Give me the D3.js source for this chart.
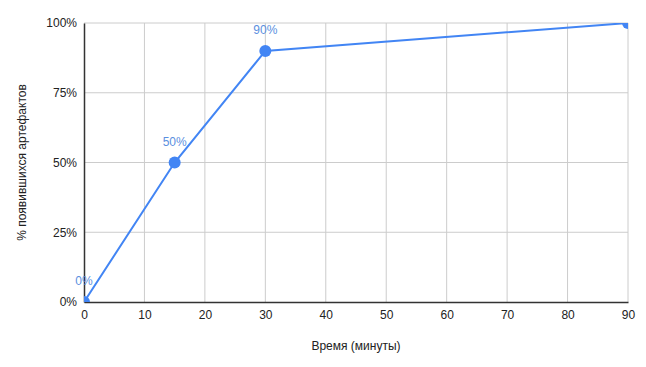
<!DOCTYPE html>
<html>
<head>
<meta charset="utf-8">
<script src="https://cdn.jsdelivr.net/npm/d3@7"></script>
<style>
  body { margin: 0; background: #fff; }
  text { font-family: "Liberation Sans", Arial, sans-serif; }
</style>
</head>
<body>
<div id="chart"></div>
<script>
const minutes = [0, 15, 30, 90];
const shares = [0, 50, 90, 100];
const xTicks = [0, 10, 20, 30, 40, 50, 60, 70, 80, 90];
const yTicks = [0, 25, 50, 75, 100];

const width = 646, height = 367;
const margin = { top: 23, right: 18, bottom: 65, left: 84 };
const blue = '#4285f4';

const svg = d3.select('#chart').append('svg')
    .attr('width', width)
    .attr('height', height);

const x = d3.scaleLinear()
    .domain([0, 90])
    .range([margin.left, width - margin.right]);

const y = d3.scaleLinear()
    .domain([0, 100])
    .range([height - margin.bottom, margin.top]);

const data = minutes.map((m, i) => ({ x: m, y: shares[i] }));

// grid
svg.append('g')
    .selectAll('line')
    .data(xTicks.slice(1))
    .join('line')
    .attr('x1', d => x(d)).attr('x2', d => x(d))
    .attr('y1', y(0)).attr('y2', y(100))
    .attr('stroke', '#cccccc');

svg.append('g')
    .selectAll('line')
    .data(yTicks.slice(1))
    .join('line')
    .attr('x1', x(0)).attr('x2', x(90))
    .attr('y1', d => y(d)).attr('y2', d => y(d))
    .attr('stroke', '#cccccc');

// axes
const xAxis = svg.append('g')
    .attr('transform', `translate(0,${y(0)})`)
    .call(d3.axisBottom(x).tickValues(xTicks).tickSize(0).tickPadding(8));
xAxis.select('.domain').attr('stroke', '#333').attr('stroke-width', 1.5);
xAxis.selectAll('text').attr('font-size', 12).attr('fill', '#222')
    .style('font-family', '"Liberation Sans", Arial, sans-serif');

const yAxis = svg.append('g')
    .attr('transform', `translate(${x(0)},0)`)
    .call(d3.axisLeft(y).tickValues(yTicks).tickFormat(d => d + '%').tickSize(0).tickPadding(7));
yAxis.select('.domain').attr('stroke', '#333').attr('stroke-width', 1.5);
yAxis.selectAll('text').attr('font-size', 12).attr('fill', '#222')
    .style('font-family', '"Liberation Sans", Arial, sans-serif');

// clip for plot area
svg.append('clipPath').attr('id', 'plot')
    .append('rect')
    .attr('x', x(0)).attr('y', y(100))
    .attr('width', x(90) - x(0)).attr('height', y(0) - y(100));

const plot = svg.append('g').attr('clip-path', 'url(#plot)');

const line = d3.line().x(d => x(d.x)).y(d => y(d.y));

plot.append('path')
    .datum(data)
    .attr('d', line)
    .attr('fill', 'none')
    .attr('stroke', blue)
    .attr('stroke-width', 2);

plot.selectAll('circle')
    .data(data)
    .join('circle')
    .attr('cx', d => x(d.x))
    .attr('cy', d => y(d.y))
    .attr('r', 6)
    .attr('fill', blue);

// data labels
svg.append('g')
    .selectAll('text')
    .data(data.filter(d => y(d.y) - 22 > margin.top))
    .join('text')
    .attr('x', d => x(d.x))
    .attr('y', d => y(d.y) - 17)
    .attr('text-anchor', 'middle')
    .attr('font-size', 12)
    .attr('fill', '#5b8fe0')
    .text(d => d.y + '%');

// axis titles
svg.append('text')
    .attr('x', (x(0) + x(90)) / 2)
    .attr('y', 350)
    .attr('text-anchor', 'middle')
    .attr('font-size', 12)
    .attr('fill', '#222')
    .text('Время (минуты)');

svg.append('text')
    .attr('transform', `translate(26,${(y(0) + y(100)) / 2}) rotate(-90)`)
    .attr('text-anchor', 'middle')
    .attr('font-size', 12)
    .attr('fill', '#222')
    .text('% появившихся артефактов');
</script>
</body>
</html>
